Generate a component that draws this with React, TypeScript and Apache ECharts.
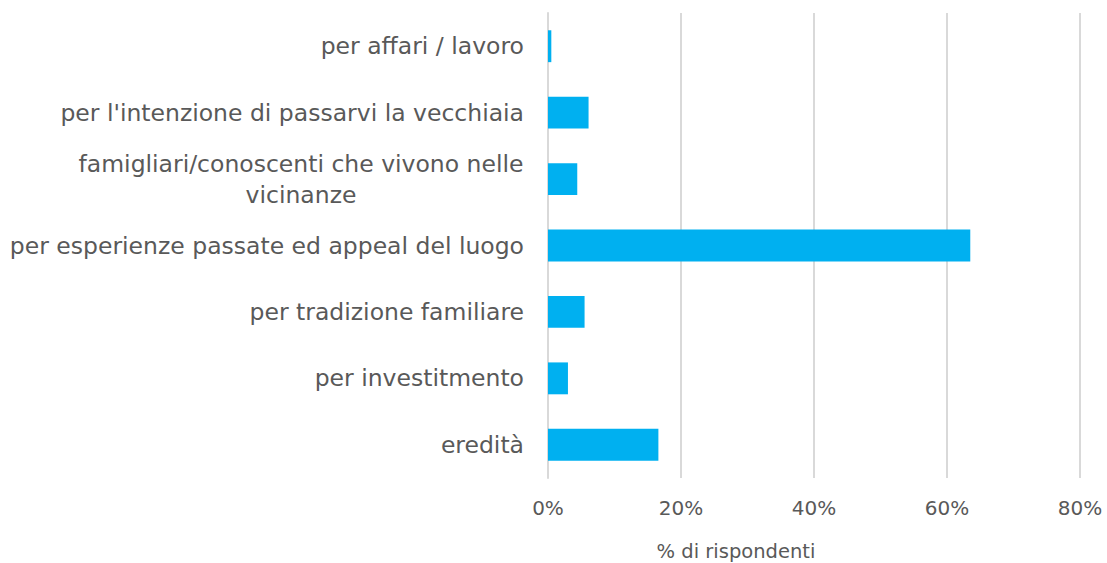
import React, { useEffect, useRef } from "react";
import * as echarts from "echarts";

const categories = [
  "per affari / lavoro",
  "per l'intenzione di passarvi la vecchiaia",
  "famigliari/conoscenti che vivono nelle\nvicinanze",
  "per esperienze passate ed appeal del luogo",
  "per tradizione familiare",
  "per investitmento",
  "eredità",
];
const values = [0.5, 6.1, 4.4, 63.5, 5.5, 3.0, 16.6];
const xTicks = [0, 20, 40, 60, 80];
const axisName = "% di rispondenti";

const FONT = "'DejaVu Sans', sans-serif";
const TEXT = "#595959";

export default function App() {
  const ref = useRef<HTMLDivElement>(null);
  useEffect(() => {
    if (!ref.current) return;
    const chart = echarts.init(ref.current, null, { renderer: "svg" });
    chart.setOption({
      animation: false,
      grid: { left: 548, right: 27, top: 13, bottom: 85, containLabel: false },
      xAxis: {
        type: "value",
        min: xTicks[0],
        max: xTicks[xTicks.length - 1],
        interval: 20,
        axisLine: { show: false },
        axisTick: { show: false },
        splitLine: { lineStyle: { color: "#d9d9d9", width: 2 } },
        axisLabel: {
          formatter: (v: number) => v + "%",
          color: TEXT,
          fontFamily: FONT,
          fontSize: 20,
          margin: 20,
        },
      },
      yAxis: {
        type: "category",
        inverse: true,
        data: categories,
        axisLine: { show: true, lineStyle: { color: "#d9d9d9", width: 2 } },
        axisTick: { show: false },
        axisLabel: {
          color: TEXT,
          fontFamily: FONT,
          fontSize: 23.5,
          margin: 24,
          lineHeight: 31,
          formatter: (v: string) =>
            v.includes("\n")
              ? v
                  .split("\n")
                  .map((s) => "{c|" + s + "}")
                  .join("\n")
              : v,
          rich: {
            c: {
              width: 446,
              align: "center",
              color: TEXT,
              fontFamily: FONT,
              fontSize: 23.5,
              lineHeight: 31,
            },
          },
        },
      },
      series: [
        {
          type: "bar",
          data: values,
          barWidth: "48%",
          itemStyle: { color: "#00b0f0" },
        },
      ],
      graphic: [
        {
          type: "text",
          x: 736,
          y: 551,
          style: {
            text: axisName,
            align: "center",
            verticalAlign: "middle",
            fill: TEXT,
            fontFamily: FONT,
            fontSize: 19.5,
          },
        },
      ],
    });
    return () => chart.dispose();
  }, []);
  return (
    <div
      ref={ref}
      style={{ position: "fixed", left: 0, top: 0, width: 1107, height: 563, background: "#fff" }}
    />
  );
}
